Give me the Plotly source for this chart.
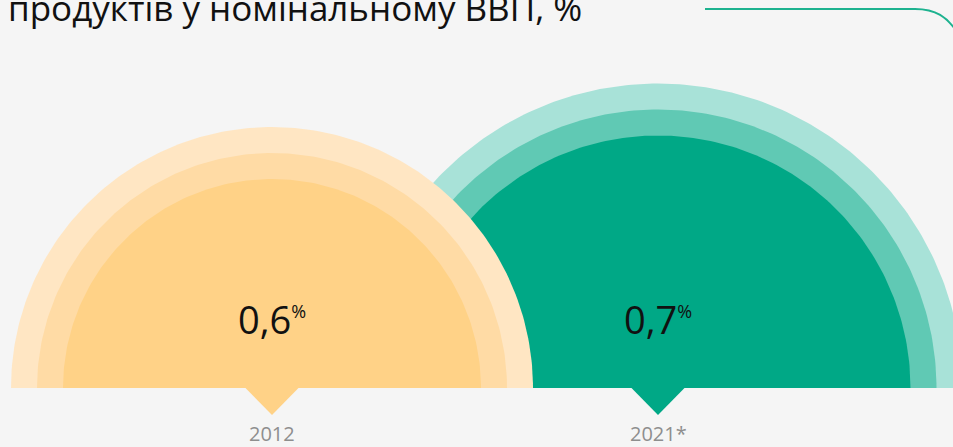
import numpy as np
import plotly.graph_objects as go

# Data
years = ["2012", "2021*"]
shares = [0.6, 0.7]
share_labels = ["0,6", "0,7"]

title_text = "продуктів у номінальному ВВП, %"

# Styling (pixel-like axis units)
W, H = 953, 447
PX_PER_UNIT = 435          # outer radius = share * PX_PER_UNIT
RING = 26                  # width of each pale ring
BASE_Y = 388
CENTERS = [272, 658]
PALETTES = [
    ["#FFE6C3", "#FFDBA5", "#FFD287"],   # orange, outer -> inner
    ["#A8E2D8", "#60C9B4", "#00A886"],   # green, outer -> inner
]
TRI = 27


def half_disc(cx, r):
    t = np.linspace(np.pi, 0, 181)
    xs = np.concatenate([cx + r * np.cos(t), [cx - r]])
    ys = np.concatenate([BASE_Y - r * np.sin(t), [BASE_Y]])
    return xs, ys


traces = []
# draw the 2021 shape first, 2012 on top
for i in [1, 0]:
    r_out = shares[i] * PX_PER_UNIT
    for k, col in enumerate(PALETTES[i]):
        xs, ys = half_disc(CENTERS[i], r_out - k * RING)
        traces.append(go.Scatter(x=xs, y=ys, fill='toself', fillcolor=col,
                                 mode='lines', line=dict(width=0),
                                 hoverinfo='skip', showlegend=False))

# pointer triangles
for i in range(len(years)):
    cx = CENTERS[i]
    traces.append(go.Scatter(x=[cx - TRI, cx + TRI, cx, cx - TRI],
                             y=[BASE_Y - 0.5, BASE_Y - 0.5, BASE_Y + TRI, BASE_Y - 0.5],
                             fill='toself', fillcolor=PALETTES[i][2],
                             mode='lines', line=dict(width=0),
                             hoverinfo='skip', showlegend=False))

fig = go.Figure(data=traces)

annotations = [dict(x=6, y=33, xref='x', yref='y', text=title_text,
                    showarrow=False, xanchor='left', yanchor='bottom',
                    font=dict(family='Open Sans', size=35, color='#111111'))]
for i in range(len(years)):
    annotations.append(dict(x=CENTERS[i], y=319, xref='x', yref='y',
                            text=share_labels[i] + '<sup><span style="font-size:18px">%</span></sup>',
                            showarrow=False, xanchor='center', yanchor='middle',
                            font=dict(family='Open Sans', size=38, color='#111111')))
    annotations.append(dict(x=CENTERS[i], y=433, xref='x', yref='y',
                            text=years[i], showarrow=False,
                            xanchor='center', yanchor='middle',
                            font=dict(family='Open Sans', size=20, color='#8e8e8e')))

fig.update_layout(
    width=W, height=H,
    margin=dict(l=0, r=0, t=0, b=0),
    paper_bgcolor='#F5F5F5',
    plot_bgcolor='#F5F5F5',
    xaxis=dict(range=[0, W], visible=False, fixedrange=True),
    yaxis=dict(range=[H, 0], visible=False, fixedrange=True),
    annotations=annotations,
    shapes=[dict(type='path', xref='x', yref='y',
                 path='M 705,9 L 915,9 C 936,9 947,17 957,32',
                 line=dict(color='#1DB28F', width=2))],
)

# drop the browser's default page margin so the figure fills the window
fig.write_html("out.html", config={'displayModeBar': False},
               post_script="document.body.style.margin='0';")
